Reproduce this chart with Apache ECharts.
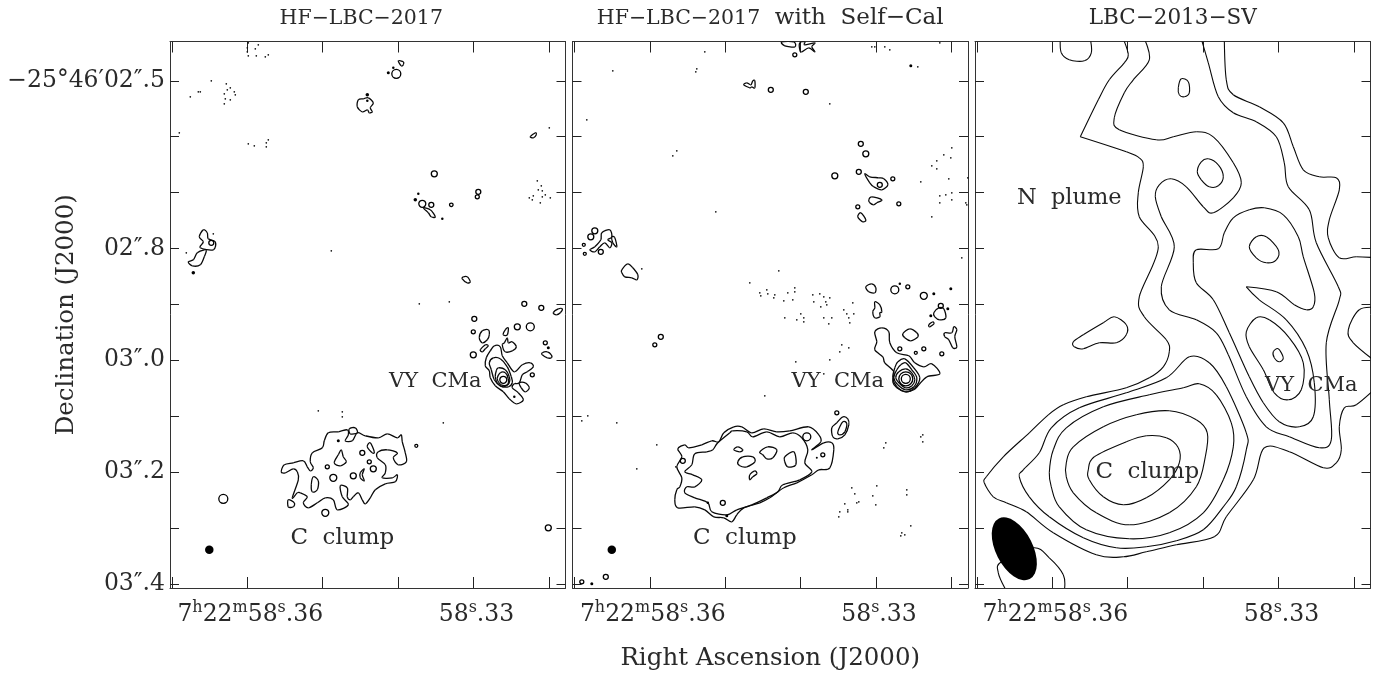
<!DOCTYPE html>
<html><head><meta charset="utf-8">
<style>html,body{margin:0;padding:0;background:#fff}#c{width:1383px;height:673px}</style>
<script src="https://cdn.jsdelivr.net/npm/echarts@6/dist/echarts.min.js"></script>
</head><body><div id="c"></div>
<script>
// Axis units: u = RA offset from 58.36s (75.4 u = 0.01s); v = Dec offset from 02".5 (55.9 v = 0.1")
const raTicks = [-75.4, 0, 75.4, 150.8, 226.2, 301.6];
const raLabelValues = [0, 226.2];
const raLabels = ['{n|7}{s|h}{n|22}{s|m}{n|58}{s|s}{n|.36}', '{n|58}{s|s}{n|.33}'];
const decTicks = [0, 55.9, 111.8, 167.7, 223.6, 279.5, 335.4, 391.3, 447.2, 503.1];
const decLabelValues = [0, 167.7, 279.5, 391.3, 503.1];
const decLabels = ['\u221225\u00b046\u203202\u2033.5', '02\u2033.8', '03\u2033.0', '03\u2033.2', '03\u2033.4'];
const panelTitles = ['{a|HF\u2212LBC\u22122017  }', '{a|HF\u2212LBC\u22122017}{b|  with  Self\u2212Cal}', '{c|LBC\u22122013\u2212SV}'];

// ---------- Panel 1
const p1Dots = [[1,-38],[0,-33],[0,-29],[8,-32],[11,-36],[9,-25],[1,-25],[18,-24],[21,-26],[-36,0],[-57,16],[-49,11],[-47,11],[-21,3],[-17,7],[-13,11],[-12,14],[-23,13],[-20,9],[-22,18],[-17,19],[-23,23],[-68,52],[1,63],[7,65],[19,66],[19,62],[21,59],[-61,172],[-34,153],[84,170],[302,47],[290,100],[294,105],[291,109],[295,110],[298,114],[286,115],[295,116],[282,117],[285,119],[303,117],[293,122],[172,223],[202,221],[196,342],[71,330],[95,331],[95,336]];
const p1Solid = [[120,14,3.5],[120,20,2.5],[141,-8,3],[146,-13,2.5],[168,119,3.5],[171,113,2.5],[195,138,2.5],[301,267,3],[267,316,2.5],[91,360,3],[-38,469,8.5],[-54,192,3.5]];
const p1Rings = [[-36,162,5],[149,-7,9],[187,93,6],[204,124,3.5],[175,123,7],[184,124,5],[231,111,5],[230,116,4],[277,223,5],[270,246,6],[283,246,8],[227,238,5],[226,251,4],[298,262,4],[226,274,6],[285,294,4],[256,299,7],[115,372,5],[122,381,4],[80,386,4],[126,388,6],[86,397,7],[106,395,6],[78,432,7],[-24,418,9],[169,365,3],[301,447,6],[294,227,5]];
const p1Loops = [
 [[-44,149],[-48,156],[-44,161],[-47,167],[-34,169],[-32,161],[-39,158],[-40,152]],
 [[-43,169],[-50,172],[-54,179],[-59,181],[-55,185],[-47,184],[-43,176],[-41,170]],
 [[111,19],[110,26],[115,31],[120,29],[122,32],[125,31],[123,27],[126,22],[121,17],[116,18]],
 [[151,-20],[156,-19],[156,-16],[154,-15]],
 [[283,56],[288,52],[289,54],[286,57]],
 [[176,127],[183,129],[188,136],[184,136],[181,132]],
 [[215,198],[220,202],[223,201],[220,196],[216,196]],
 [[306,232],[311,228],[315,228],[313,232],[309,234]],
 [[295,272],[300,271],[304,274],[304,277],[300,277],[295,274]],
 [[241,249],[235,250],[232,257],[235,262],[240,259],[242,254]],
 [[233,269],[238,264],[241,265],[238,268],[235,271]],
 [[258,249],[261,247],[260,254],[256,254]],
 [[260,257],[257,262],[255,264],[258,271],[265,270],[269,266],[265,261],[261,262]],
 [[247,265],[253,266],[255,275],[260,282],[267,291],[275,284],[283,282],[286,286],[280,291],[275,294],[272,302],[267,303],[265,307],[271,312],[276,319],[269,323],[262,318],[256,311],[248,305],[243,297],[242,290],[238,285],[239,277],[243,270]],
 [[272,302],[278,302],[282,307],[278,311],[274,307]],
 [[246,277],[253,278],[260,286],[264,296],[265,302],[261,306],[253,305],[247,299],[244,289],[242,282]],
 [[251,287],[258,289],[262,296],[262,302],[256,306],[250,302],[248,296],[249,290]],
 [[253,292],[258,292],[261,298],[260,304],[254,304],[250,298]],
 [[34,391],[37,384],[46,382],[56,380],[60,386],[63,390],[66,387],[63,381],[65,372],[75,367],[77,360],[81,352],[91,351],[100,349],[101,354],[98,360],[105,360],[110,352],[118,355],[131,357],[140,353],[150,357],[154,354],[155,361],[158,372],[159,381],[151,384],[146,377],[150,372],[140,369],[131,371],[130,377],[138,384],[138,392],[135,397],[145,397],[150,394],[148,401],[138,403],[128,409],[123,417],[118,423],[115,419],[111,412],[106,416],[103,419],[100,416],[100,407],[93,405],[95,416],[101,424],[90,429],[86,419],[78,417],[70,422],[61,427],[56,422],[60,416],[53,412],[50,412],[45,417],[51,399],[50,391],[46,388],[38,392]],
 [[102,348],[108,347],[110,352],[103,353]],
 [[94,369],[96,376],[99,381],[93,385],[87,382],[91,374]],
 [[123,362],[127,371],[125,372],[120,366]],
 [[117,388],[115,394],[117,400],[113,397],[113,392]],
 [[66,396],[71,400],[70,409],[65,411],[64,404]],
 [[41,419],[47,422],[46,426],[41,426]]
];

// ---------- Panel 2
const p2Dots = [[-37,-10],[55,-29],[46,-9],[47,-12],[-63,39],[27,70],[23,75],[66,131],[-8,188],[100,202],[110,212],[111,215],[117,209],[118,213],[268,-14],[225,-34],[222,-34],[235,-34],[240,-31],[290,-38],[180,23],[302,67],[294,74],[301,77],[287,80],[282,85],[287,88],[299,98],[271,101],[318,97],[302,112],[296,114],[290,115],[290,122],[302,119],[316,122],[317,124],[282,136],[129,190],[124,217],[125,214],[134,220],[138,212],[143,219],[145,207],[145,211],[163,214],[170,213],[174,216],[180,217],[164,221],[171,226],[176,221],[177,224],[203,222],[194,229],[197,233],[204,233],[199,237],[200,242],[135,237],[147,239],[151,233],[154,237],[154,241],[174,237],[182,237],[179,243],[192,264],[199,267],[190,271],[146,281],[180,279],[174,293],[115,315],[-68,340],[-62,335],[-33,342],[7,364],[-13,388],[26,386],[195,423],[190,431],[189,436],[198,429],[273,354],[271,356],[273,361],[236,362],[234,367],[227,405],[202,407],[205,413],[223,415],[207,422],[209,421],[226,424],[198,431],[257,409],[257,414],[261,445],[252,452],[255,454],[251,455],[312,177]];
const p2Solid = [[261,-15,3],[250,203,2.5],[284,213,3],[301,208,3],[298,228,3],[281,235,3],[167,377,2],[58,422,2.5],[77,435,3],[-38,469,8.5],[-58,503,3]];
const p2Rings = [[-55,150,6],[-59,156,6],[-49,171,5],[-66,164,3],[-65,173,3],[11,256,5],[5,264,4],[145,-26,4],[121,9,5],[156,11,5],[211,63,5],[216,73,6],[209,91,5],[185,95,6],[243,98,4],[249,123,4],[208,126,4],[230,104,5],[245,209,8],[258,206,4],[274,215,7],[291,225,5],[250,268,4],[266,272,3],[274,268,4],[292,273,4],[256,298,14],[256,298,9],[157,356,8],[33,380,5],[73,422,5],[173,374,4],[187,332,4],[-44,496,5],[-68,501,4]];
const p2Loops = [
 [[94,4],[100,7],[102,6],[105,7],[105,0],[103,0],[101,4],[97,2]],
 [[-60,169],[-55,166],[-49,159],[-48,152],[-40,149],[-38,156],[-42,159],[-38,162],[-40,167],[-45,162],[-50,166],[-55,171]],
 [[-38,156],[-35,157],[-33,166],[-37,162]],
 [[-28,189],[-22,183],[-17,187],[-12,194],[-13,199],[-18,197],[-25,196],[-28,192]],
 [[132,-39],[135,-35],[145,-34],[144,-39]],
 [[150,-31],[150,-38],[155,-39],[155,-36],[165,-38],[162,-34],[165,-29],[159,-33],[152,-29]],
 [[215,93],[220,96],[229,97],[234,98],[238,104],[232,109],[224,106],[220,102]],
 [[219,119],[222,116],[232,119],[227,122],[224,124],[220,122]],
 [[208,136],[211,132],[216,139],[213,141]],
 [[216,206],[222,203],[226,207],[225,212],[219,211]],
 [[225,221],[230,224],[232,231],[230,232],[230,236],[225,237],[223,231],[225,227]],
 [[284,232],[289,227],[294,228],[296,237],[290,239],[285,236]],
 [[279,244],[283,241],[284,243],[280,246]],
 [[295,252],[302,252],[304,246],[307,249],[305,256],[307,266],[303,267],[299,259],[295,256]],
 [[253,253],[260,248],[267,252],[268,256],[261,260],[255,257]],
 [[225,251],[232,247],[239,251],[240,262],[247,272],[259,275],[265,282],[274,286],[282,283],[290,293],[277,296],[269,304],[264,309],[256,311],[247,307],[243,301],[244,291],[235,282],[233,276],[225,269],[227,261]],
 [[248,281],[255,278],[264,287],[270,297],[265,307],[256,311],[247,306],[243,297],[245,287]],
 [[251,284],[256,282],[262,289],[267,297],[264,306],[256,309],[248,304],[244,297],[247,289]],
 [[256,288],[262,292],[265,299],[262,305],[256,307],[250,303],[246,297],[249,291]],
 [[28,368],[35,364],[39,367],[52,364],[62,360],[69,361],[74,352],[84,346],[92,346],[102,352],[114,348],[127,351],[140,350],[159,346],[169,354],[171,361],[162,369],[174,362],[182,362],[184,369],[180,387],[169,389],[162,394],[147,402],[134,407],[120,417],[110,422],[94,427],[87,434],[82,441],[74,437],[64,436],[55,429],[45,426],[28,427],[25,419],[27,409],[30,406],[32,397],[27,386],[32,376]],
 [[35,391],[42,384],[45,373],[57,371],[63,369],[68,362],[80,352],[83,350],[97,351],[103,356],[117,351],[130,356],[143,352],[152,357],[158,369],[155,382],[162,391],[150,399],[133,404],[128,411],[117,417],[102,424],[87,429],[77,434],[62,431],[58,422],[45,417],[35,412],[37,406],[45,406],[52,399],[43,394]],
 [[84,369],[88,366],[93,369],[90,371]],
 [[88,381],[93,376],[103,376],[105,381],[97,386],[90,385]],
 [[110,371],[118,366],[127,369],[123,377],[117,378],[113,374]],
 [[135,376],[144,371],[146,384],[138,386],[135,381]],
 [[100,394],[105,390],[107,393],[103,396],[100,399]],
 [[182,347],[187,342],[193,336],[198,338],[199,344],[195,354],[188,358],[183,356]],
 [[188,351],[193,341],[197,343],[195,351],[190,354]]
];

// ---------- Panel 3 (a repeated vertex marks a sharp corner)
const p3Open = [
 [[8,-42],[9,-28],[17,-21],[32,-20],[39,-28],[38,-42]],
 [[71,-42],[76,-26],[72,-18],[57,-1],[46,19],[28,56],[28,56],[74,71],[87,77],[91,86],[86,112],[87,136],[106,166],[87,216],[92,236],[114,259],[117,271],[111,286],[97,297],[74,307],[34,316],[11,324],[-4,334],[-23,352],[-49,376],[-66,396],[-68,402],[-59,416],[-46,422],[-26,431],[1,452],[44,474],[71,476],[94,471],[124,464],[162,456],[174,436],[201,399],[212,367],[237,371],[271,387],[284,382],[289,369],[287,346],[292,327],[304,324],[325,306]],
 [[172,-42],[174,-1],[181,14],[207,26],[231,42],[241,66],[251,89],[267,96],[284,97],[287,109],[277,139],[276,157],[287,177],[304,176],[325,177]],
 [[92,-42],[97,-21],[81,-1],[72,12],[62,37],[67,49],[104,59],[121,56],[144,51],[161,56],[181,82],[189,102],[181,117],[161,132],[151,126],[134,106],[119,98],[107,104],[103,116],[109,136],[122,166],[109,206],[117,229],[144,239],[164,252],[176,274],[194,316],[214,346],[237,356],[267,367],[279,359],[277,319],[274,262],[287,219],[286,206],[264,162],[257,129],[236,106],[232,82],[224,56],[204,41],[181,32],[166,16],[156,-18],[149,-42]],
 [[325,227],[307,229],[296,249],[301,262],[325,282]],
 [[-46,510],[-54,492],[-51,481],[-19,467],[-3,477],[11,494],[12,510]]
];
const p3Loops = [
 [[141,182],[144,169],[166,168],[172,152],[181,137],[197,129],[212,127],[231,134],[246,156],[251,176],[262,212],[261,226],[254,229],[242,224],[224,211],[194,206],[194,206],[207,219],[234,239],[254,269],[262,302],[261,336],[247,346],[227,341],[211,322],[197,296],[177,252],[161,219],[144,202]],
 [[126,7],[129,-2],[136,1],[137,12],[132,16],[127,14]],
 [[145,91],[149,81],[156,78],[166,84],[171,96],[166,105],[157,106],[149,99]],
 [[197,166],[204,156],[214,156],[226,169],[224,179],[214,182],[204,177]],
 [[194,251],[204,237],[217,239],[237,257],[251,282],[249,309],[236,319],[222,312],[211,289],[197,266]],
 [[221,271],[226,268],[231,277],[227,281],[222,277]],
 [[21,261],[31,254],[51,242],[62,236],[74,244],[74,254],[64,262],[47,262],[31,268],[22,266]],
 [[36,389],[42,376],[74,361],[94,355],[114,357],[126,367],[127,382],[117,399],[94,417],[71,424],[51,416],[37,399]],
 [[14,382],[21,366],[51,346],[84,334],[117,330],[144,339],[155,352],[153,376],[144,406],[117,432],[77,444],[44,432],[21,412],[14,396]],
 [[-3,392],[1,369],[14,347],[51,326],[97,314],[131,307],[147,303],[164,314],[179,342],[181,366],[171,399],[151,432],[117,452],[77,458],[34,449],[7,426],[-1,406]],
 [[-33,396],[-29,389],[-13,372],[-1,347],[27,327],[74,312],[114,297],[137,276],[157,282],[174,306],[194,352],[194,369],[184,406],[171,426],[151,449],[124,460],[94,466],[64,467],[31,457],[-3,436],[-23,416]]
];
const p3Beam = [[-38,468]];

// ---------- Annotations
const p1Notes = [['VY  CMa',188,301,21],['C  clump',95,457,23]];
const p2Notes = [['VY  CMa',188,301,21],['C  clump',95,457,23]];
const p3Notes = [['N  plume',17,117,22.5],['VY  CMa',259,305,21],['C  clump',95,391,23]];

// ---------- Layout / style
const FONT = 'DejaVu Serif', INK = '#2a2a2a';
const panelLeft = [170, 572.5, 975], panelW = 395.5, panelTop = 41.5, panelH = 546.5;
const uRange = [-77.3, 318.2], vRange = [-39.3, 507.2];

const grid = panelLeft.map(l => ({left: l, top: panelTop, width: panelW, height: panelH, show: false, outerBoundsMode: 'none', containLabel: false}));
const axisLine = {show: true, onZero: false, lineStyle: {color: '#333', width: 1}};
const xAxis = [], yAxis = [];
panelLeft.forEach((_, i) => {
  const xBase = {type: 'value', gridIndex: i, min: uRange[0], max: uRange[1], splitLine: {show: false}, axisLine, nameMoveOverlap: false,
    axisTick: {show: true, inside: true, length: 11, customValues: raTicks, lineStyle: {color: '#222', width: 1}}};
  xAxis.push(Object.assign({}, xBase, {
    position: 'bottom',
    name: i === 1 ? 'Right Ascension (J2000)' : '',
    nameLocation: 'middle', nameGap: 71,
    nameTextStyle: {fontFamily: FONT, fontSize: 24.5, color: INK, verticalAlign: 'middle'},
    axisLabel: {show: true, margin: 12, padding: [0, 0, 0, 6], customValues: raLabelValues, hideOverlap: false,
      formatter: v => raLabels[raLabelValues.findIndex(t => Math.abs(t - v) < 1e-6)] || '',
      rich: {n: {fontFamily: FONT, fontSize: 23.5, color: INK, lineHeight: 27, verticalAlign: 'bottom'},
             s: {fontFamily: FONT, fontSize: 16, color: INK, lineHeight: 27, verticalAlign: 'top'}}}
  }));
  xAxis.push(Object.assign({}, xBase, {
    position: 'top', name: panelTitles[i], nameLocation: 'middle', nameGap: 23,
    nameTextStyle: {verticalAlign: 'middle', rich: {
      a: {fontFamily: FONT, fontSize: 20.5, color: INK},
      b: {fontFamily: FONT, fontSize: 23, color: INK},
      c: {fontFamily: FONT, fontSize: 21.5, color: INK}}},
    axisLabel: {show: false}
  }));
  const yBase = {type: 'value', gridIndex: i, inverse: true, min: vRange[0], max: vRange[1], splitLine: {show: false}, axisLine, nameMoveOverlap: false,
    axisTick: {show: true, inside: true, length: 9, customValues: decTicks, lineStyle: {color: '#222', width: 1}}};
  yAxis.push(Object.assign({}, yBase, {
    position: 'left',
    name: i === 0 ? 'Declination (J2000)' : '', nameLocation: 'middle', nameRotate: 90, nameGap: 103,
    nameTextStyle: {fontFamily: FONT, fontSize: 24.5, color: INK, verticalAlign: 'middle'},
    axisLabel: {show: i === 0, margin: 5, padding: [3, 0, 0, 0], customValues: decLabelValues, hideOverlap: false,
      fontFamily: FONT, fontSize: 23.5, color: INK,
      formatter: v => decLabels[decLabelValues.findIndex(t => Math.abs(t - v) < 1e-6)] || ''}
  }));
  yAxis.push(Object.assign({}, yBase, {position: 'right', axisLabel: {show: false}}));
});

// One custom-series item per contour: its vertices go through the axis scales, then a
// Catmull-Rom bezier is drawn through them (closed for loops, open for edge-to-edge lines).
function contourSeries(i, paths, closedFrom, lw) {
  const same = (p, q) => p[0] === q[0] && p[1] === q[1];
  return {
    type: 'custom', coordinateSystem: 'cartesian2d', xAxisIndex: i * 2, yAxisIndex: i * 2, clip: true, silent: true,
    encode: {x: 0, y: 1},
    data: paths.map(p => p[0]),
    renderItem(params, api) {
      const idx = params.dataIndex, closed = idx >= closedFrom;
      const pts = paths[idx].map(p => api.coord(p));
      const n = pts.length, at = k => closed ? pts[(k + n) % n] : pts[Math.max(0, Math.min(n - 1, k))];
      const children = [], last = closed ? n : n - 1;
      for (let k = 0; k < last; k++) {
        const a = at(k - 1), b = at(k), c = at(k + 1), d = at(k + 2);
        if (same(b, c)) continue;
        const t1 = same(a, b) ? [0, 0] : [(c[0] - a[0]) / 6, (c[1] - a[1]) / 6];
        const t2 = same(c, d) ? [0, 0] : [(d[0] - b[0]) / 6, (d[1] - b[1]) / 6];
        children.push({type: 'bezierCurve', shape: {
          x1: b[0], y1: b[1], x2: c[0], y2: c[1],
          cpx1: b[0] + t1[0], cpy1: b[1] + t1[1],
          cpx2: c[0] - t2[0], cpy2: c[1] - t2[1]},
          style: {fill: null, stroke: '#0a0a0a', lineWidth: lw}});
      }
      return {type: 'group', children};
    }
  };
}
function panelSeries(i, open, loops, dots, solid, rings, notes, lw) {
  const ax = {xAxisIndex: i * 2, yAxisIndex: i * 2};
  return [
    contourSeries(i, open.concat(loops), open.length, lw),
    Object.assign({type: 'scatter', data: dots, symbolSize: 1.7, silent: true, itemStyle: {color: '#111', opacity: 1}}, ax),
    Object.assign({type: 'scatter', data: solid, symbolSize: d => d[2], silent: true, itemStyle: {color: '#000', opacity: 1}}, ax),
    Object.assign({type: 'scatter', data: rings, symbolSize: d => d[2], silent: true,
      itemStyle: {color: 'rgba(0,0,0,0)', borderColor: '#000', borderWidth: 1.3, opacity: 1}}, ax),
    Object.assign({type: 'scatter', symbolSize: 0, silent: true, z: 6, itemStyle: {opacity: 1},
      data: notes.map(n => ({name: n[0], value: [n[1], n[2]],
        label: {show: true, position: 'inside', formatter: '{b}', fontFamily: FONT, fontSize: n[3], color: INK}}))}, ax)
  ];
}
const series = [
  ...panelSeries(0, [], p1Loops, p1Dots, p1Solid, p1Rings, p1Notes, 1.3),
  ...panelSeries(1, [], p2Loops, p2Dots, p2Solid, p2Rings, p2Notes, 1.3),
  ...panelSeries(2, p3Open, p3Loops, [], [], [], p3Notes, 1.1),
  {type: 'scatter', xAxisIndex: 4, yAxisIndex: 4, data: p3Beam, symbol: 'circle', symbolSize: [37, 68], symbolRotate: 27,
   silent: true, z: 5, itemStyle: {color: '#000', opacity: 1}}
];

const chart = echarts.init(document.getElementById('c'));
chart.setOption({animation: false, backgroundColor: '#fff', tooltip: {show: false}, grid, xAxis, yAxis, series});
</script></body></html>
